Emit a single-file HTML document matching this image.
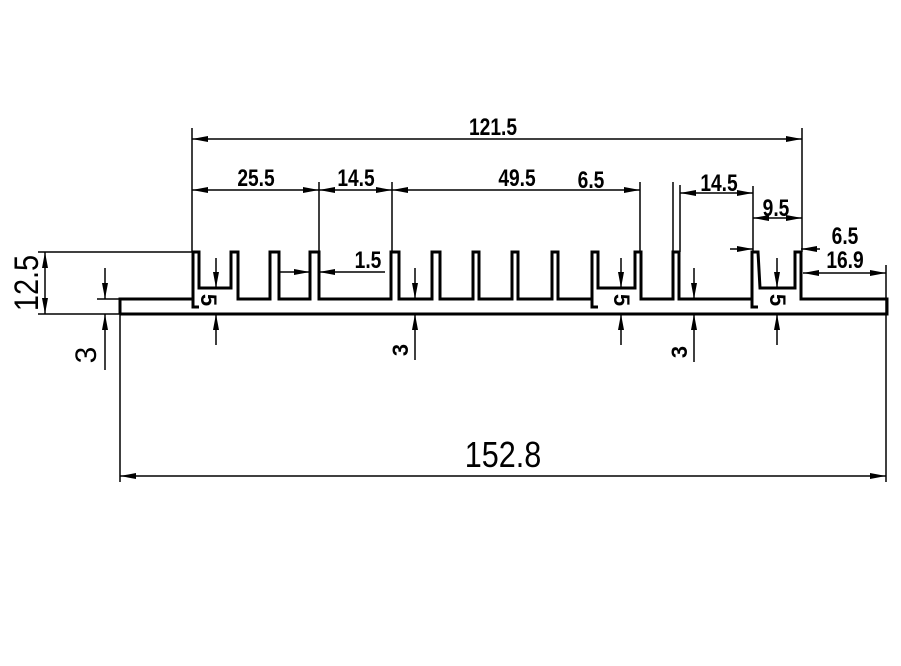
<!DOCTYPE html>
<html><head><meta charset="utf-8"><style>
html,body{margin:0;padding:0;background:#fff;}
svg{display:block;}
text{font-family:"Liberation Sans",sans-serif;font-weight:bold;fill:#000;}
</style></head><body>
<svg width="901" height="666" viewBox="0 0 901 666" xmlns="http://www.w3.org/2000/svg">
<defs>
<marker id="a" viewBox="0 0 16 6" refX="16" refY="3" markerWidth="16" markerHeight="6" orient="auto-start-reverse" markerUnits="userSpaceOnUse"><path d="M0,0 L16,3 L0,6 Z" fill="#000"/></marker>
</defs>
<path d="M120,314 L887,314 L887,299 L801,299 L801,252 L795,252 L795,288 L760,288 L758,252 L752,252 L752,307 L758,307 M752,299 L679,299 L679,252 L673,252 L673,299 L641,299 L641,252 L635,252 L635,288 L598,288 L598,252 L592,252 L592,307 L598,307 M592,299 L558,299 L558,252 L552,252 L552,299 L518,299 L518,252 L512,252 L512,299 L479,299 L479,252 L473,252 L473,299 L440,299 L440,252 L432,252 L432,299 L399,299 L399,252 L391,252 L391,299 L319,299 L319,252 L310,252 L310,299 L279,299 L279,252 L270,252 L270,299 L238,299 L238,252 L231,252 L231,288 L199,288 L199,252 L193,252 L193,307 L199,307 M193,299 L120,299 L120,314" fill="none" stroke="#000" stroke-width="3" stroke-linejoin="miter"/>
<g stroke="#000" stroke-width="1.5" fill="none">
<line x1="192" y1="128" x2="192" y2="252"/>
<line x1="802" y1="128" x2="802" y2="252"/>
<line x1="319" y1="182" x2="319" y2="252"/>
<line x1="392" y1="182" x2="392" y2="252"/>
<line x1="640" y1="182" x2="640" y2="252"/>
<line x1="673" y1="182" x2="673" y2="252"/>
<line x1="680" y1="185" x2="680" y2="252"/>
<line x1="753" y1="186" x2="753" y2="252"/>
<line x1="886" y1="265" x2="886" y2="482"/>
<line x1="120" y1="314" x2="120" y2="482"/>
<line x1="38" y1="252" x2="193" y2="252"/>
<line x1="38" y1="314" x2="120" y2="314"/>
<line x1="97" y1="299" x2="120" y2="299"/>
<line x1="192" y1="139" x2="802" y2="139" marker-start="url(#a)" marker-end="url(#a)"/>
<line x1="192" y1="190" x2="319" y2="190" marker-start="url(#a)" marker-end="url(#a)"/>
<line x1="319" y1="190" x2="392" y2="190" marker-start="url(#a)" marker-end="url(#a)"/>
<line x1="392" y1="190" x2="640" y2="190" marker-start="url(#a)" marker-end="url(#a)"/>
<line x1="680" y1="193" x2="753" y2="193" marker-start="url(#a)" marker-end="url(#a)"/>
<line x1="753" y1="218" x2="802" y2="218" marker-start="url(#a)" marker-end="url(#a)"/>
<line x1="730" y1="249" x2="753" y2="249" marker-end="url(#a)"/>
<line x1="820" y1="249" x2="801" y2="249" marker-end="url(#a)"/>
<line x1="803" y1="273" x2="886" y2="273" marker-start="url(#a)" marker-end="url(#a)"/>
<line x1="120" y1="476" x2="886" y2="476" marker-start="url(#a)" marker-end="url(#a)"/>
<line x1="45" y1="252" x2="45" y2="314" marker-start="url(#a)" marker-end="url(#a)"/>
<line x1="105" y1="268" x2="105" y2="299" marker-end="url(#a)"/>
<line x1="105" y1="370" x2="105" y2="314" marker-end="url(#a)"/>
<line x1="280" y1="272" x2="310" y2="272" marker-end="url(#a)"/>
<line x1="385" y1="272" x2="319" y2="272" marker-end="url(#a)"/>
<line x1="216" y1="258" x2="216" y2="288" marker-end="url(#a)"/>
<line x1="216" y1="345" x2="216" y2="314" marker-end="url(#a)"/>
<line x1="415" y1="268" x2="415" y2="299" marker-end="url(#a)"/>
<line x1="415" y1="360" x2="415" y2="314" marker-end="url(#a)"/>
<line x1="621" y1="258" x2="621" y2="288" marker-end="url(#a)"/>
<line x1="621" y1="345" x2="621" y2="314" marker-end="url(#a)"/>
<line x1="694" y1="268" x2="694" y2="299" marker-end="url(#a)"/>
<line x1="694" y1="362" x2="694" y2="314" marker-end="url(#a)"/>
<line x1="777" y1="258" x2="777" y2="288" marker-end="url(#a)"/>
<line x1="777" y1="345" x2="777" y2="314" marker-end="url(#a)"/>
</g>
<g font-size="24" text-anchor="middle">
<text transform="translate(493 135) scale(0.8 1)">121.5</text>
<text transform="translate(256 186) scale(0.8 1)">25.5</text>
<text transform="translate(356 186) scale(0.8 1)">14.5</text>
<text transform="translate(517 186) scale(0.8 1)">49.5</text>
<text transform="translate(591 188) scale(0.8 1)">6.5</text>
<text transform="translate(719 191) scale(0.8 1)">14.5</text>
<text transform="translate(776 216) scale(0.8 1)">9.5</text>
<text transform="translate(845 244) scale(0.8 1)">6.5</text>
<text transform="translate(845 268) scale(0.8 1)">16.9</text>
<text transform="translate(368 268) scale(0.8 1)">1.5</text>
</g>
<text transform="translate(503 467) scale(0.85 1)" font-size="36" text-anchor="middle" style="font-weight:normal">152.8</text>
<text transform="translate(38 283) rotate(-90) scale(0.85 1)" font-size="34" text-anchor="middle" style="font-weight:normal">12.5</text>
<text transform="translate(96 355) rotate(-90)" font-size="30" text-anchor="middle" style="font-weight:normal">3</text>
<g font-size="22" text-anchor="middle">
<text transform="translate(201 300) rotate(90)">5</text>
<text transform="translate(614 300) rotate(90)">5</text>
<text transform="translate(770 300) rotate(90)">5</text>
<text transform="translate(408 350) rotate(-90)">3</text>
<text transform="translate(687 352) rotate(-90)">3</text>
</g>
</svg>
</body></html>
